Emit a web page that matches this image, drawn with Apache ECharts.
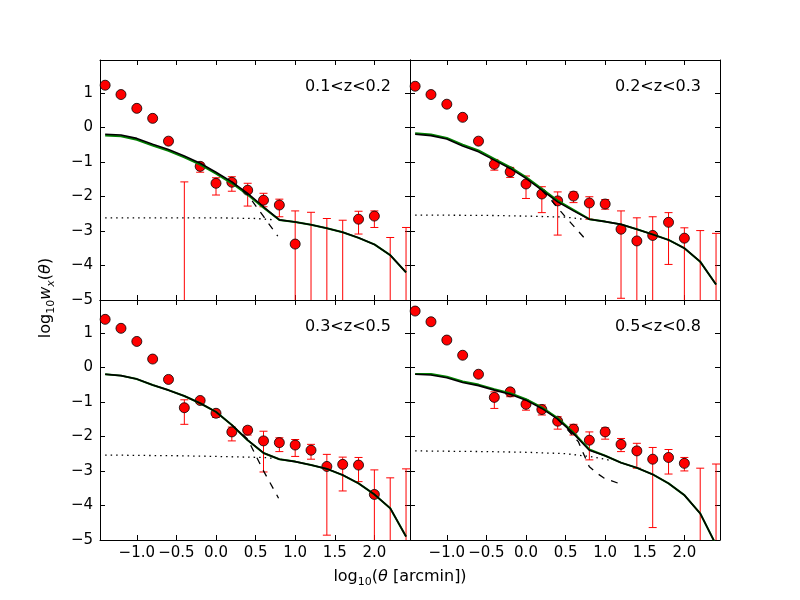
<!DOCTYPE html>
<html>
<head>
<meta charset="utf-8">
<script src="https://cdn.jsdelivr.net/npm/echarts@6/dist/echarts.min.js"></script>
<style>html,body{margin:0;padding:0;background:#fff}#c{width:800px;height:600px}</style>
</head>
<body>
<div id="c"></div>
<script>
// ---------- data ----------
const thetaX = [-1.4,-1.2,-1.0,-0.8,-0.6,-0.4,-0.2,0.0,0.2,0.4,0.6,0.8,1.0,1.2,1.4,1.6,1.8,2.0,2.2,2.4];
const xTicks = [-1.0,-0.5,0.0,0.5,1.0,1.5,2.0];
const yTicks = [-5,-4,-3,-2,-1,0,1];
const panelLabels = ['0.1<z<0.2','0.2<z<0.3','0.3<z<0.5','0.5<z<0.8'];

// panel 1: 0.1<z<0.2
const p1Y  = [1.22,0.95,0.55,0.26,-0.40,null,-1.13,-1.62,-1.59,-1.82,-2.11,-2.25,-3.38,null,null,null,-2.66,-2.57,null,null];
const p1Hi = [null,null,null,null,null,-1.58,-1.03,-1.46,-1.43,-1.62,-1.91,-2.08,-2.42,-2.46,-2.64,-2.69,-2.43,-2.42,-3.19,-2.90];
const p1Lo = [null,null,null,null,null,-9,-1.30,-1.96,-1.85,-2.28,-2.30,-2.59,-9,-9,-9,-9,-3.09,-2.90,-9,-9];
const p1Model = [-0.20,-0.22,-0.32,-0.49,-0.64,-0.83,-1.04,-1.30,-1.58,-1.91,-2.30,-2.68,-2.74,-2.82,-2.92,-3.04,-3.20,-3.39,-3.70,-4.20];
const p1Green = [-0.24,-0.26,-0.36,-0.53,-0.68,-0.87,-1.08,-1.34,-1.62,-1.95,-2.33,-2.68,-2.74,-2.82,-2.92,-3.04,-3.20,-3.39,-3.70,-4.20];
const p1DashX = [0.2,0.4,0.6,0.78];
const p1DashY = [-1.58,-1.95,-2.58,-3.15];
const p1DotX = [-1.4,-1.0,-0.5,0.0,0.5,0.75];
const p1DotY = [-2.62,-2.62,-2.62,-2.62,-2.64,-2.68];

// panel 2: 0.2<z<0.3
const p2Y  = [1.19,0.95,0.67,0.29,-0.40,-1.07,-1.29,-1.64,-1.93,-2.13,-1.99,-2.19,-2.22,-2.95,-3.29,-3.13,-2.75,-3.21,null,null];
const p2Hi = [null,null,null,null,null,-0.93,-1.16,-1.41,-1.72,-1.87,-1.87,-2.01,-2.09,-2.42,-2.62,-2.59,-2.47,-2.91,-2.99,-3.07];
const p2Lo = [null,null,null,null,null,-1.24,-1.45,-2.06,-2.47,-3.12,-2.18,-2.66,-2.37,-4.95,-9,-9,-3.97,-9,-9,-9];
const p2Model = [-0.20,-0.24,-0.34,-0.54,-0.71,-0.95,-1.19,-1.48,-1.82,-2.16,-2.42,-2.66,-2.73,-2.81,-2.95,-3.10,-3.26,-3.50,-3.89,-4.55];
const p2Green = [-0.17,-0.21,-0.31,-0.50,-0.67,-0.91,-1.15,-1.44,-1.78,-2.12,-2.39,-2.66,-2.73,-2.81,-2.95,-3.10,-3.26,-3.50,-3.89,-4.55];
const p2DashX = [0.2,0.3,0.49,0.77];
const p2DashY = [-1.82,-2.06,-2.57,-3.29];
const p2DotX = [-1.4,-0.5,0.0,0.5,0.72];
const p2DotY = [-2.54,-2.55,-2.57,-2.60,-2.66];

// panel 3: 0.3<z<0.5
const p3Y  = [1.39,1.13,0.75,0.24,-0.35,-1.17,-0.96,-1.33,-1.87,-1.82,-2.13,-2.18,-2.25,-2.40,-2.87,-2.81,-2.83,-3.68,null,null];
const p3Hi = [null,null,null,null,null,-0.94,-0.90,-1.24,-1.73,-1.72,-1.85,-2.04,-2.09,-2.23,-2.52,-2.60,-2.61,-2.97,-3.20,-2.94];
const p3Lo = [null,null,null,null,null,-1.65,-1.03,-1.45,-2.13,-1.96,-3.03,-2.44,-2.58,-2.66,-4.86,-3.58,-3.31,-9,-9,-9];
const p3Model = [-0.20,-0.24,-0.34,-0.51,-0.66,-0.83,-1.04,-1.29,-1.67,-2.11,-2.48,-2.66,-2.73,-2.83,-2.94,-3.12,-3.36,-3.68,-4.08,-4.90];
const p3Green = [-0.20,-0.24,-0.34,-0.51,-0.66,-0.83,-1.04,-1.29,-1.67,-2.11,-2.48,-2.66,-2.73,-2.83,-2.94,-3.12,-3.36,-3.68,-4.08,-4.90];
const p3DashX = [0.2,0.4,0.6,0.79];
const p3DashY = [-1.67,-2.08,-3.00,-3.79];
const p3DotX = [-1.4,-0.5,0.0,0.6,0.75];
const p3DotY = [-2.54,-2.56,-2.58,-2.61,-2.64];

// panel 4: 0.5<z<0.8
const p4Y  = [1.63,1.32,0.79,0.35,-0.20,-0.87,-0.71,-1.07,-1.22,-1.56,-1.79,-2.11,-1.87,-2.23,-2.42,-2.66,-2.61,-2.78,null,null];
const p4Hi = [null,null,null,null,null,-0.71,-0.63,-0.98,-1.09,-1.43,-1.65,-1.87,-1.75,-2.06,-2.20,-2.32,-2.38,-2.61,-2.92,-2.80];
const p4Lo = [null,null,null,null,null,-1.19,-0.85,-1.24,-1.38,-1.79,-1.96,-2.68,-2.08,-2.44,-2.92,-4.64,-3.09,-3.00,-9,-9];
const p4Model = [-0.20,-0.22,-0.30,-0.44,-0.53,-0.66,-0.78,-0.95,-1.19,-1.50,-1.92,-2.40,-2.56,-2.76,-2.91,-3.10,-3.36,-3.70,-4.23,-5.14];
const p4Green = [-0.19,-0.19,-0.27,-0.41,-0.50,-0.63,-0.75,-0.92,-1.16,-1.47,-1.89,-2.38,-2.56,-2.76,-2.91,-3.10,-3.36,-3.70,-4.23,-5.14];
const p4DashX = [0.4,0.55,0.66,0.77,0.80,0.90,0.98,1.17];
const p4DashY = [-1.50,-1.87,-2.15,-2.73,-2.88,-3.07,-3.20,-3.36];
const p4DotX = [-1.4,-0.5,0.0,0.5,0.83,1.08];
const p4DotY = [-2.42,-2.44,-2.46,-2.50,-2.59,-2.70];

// ---------- layout ----------
const X_MIN = -1.465, X_MAX = 2.45, Y_MIN = -5, Y_MAX = 1.95;
const FONT = 'DejaVu Sans';
const grids = [
  {left:100, top:60,  width:310, height:240},
  {left:410, top:60,  width:310, height:240},
  {left:100, top:300, width:310, height:240},
  {left:410, top:300, width:310, height:240}
];
const panels = [
  {y:p1Y,hi:p1Hi,lo:p1Lo,model:p1Model,green:p1Green,dx:p1DashX,dy:p1DashY,ox:p1DotX,oy:p1DotY},
  {y:p2Y,hi:p2Hi,lo:p2Lo,model:p2Model,green:p2Green,dx:p2DashX,dy:p2DashY,ox:p2DotX,oy:p2DotY},
  {y:p3Y,hi:p3Hi,lo:p3Lo,model:p3Model,green:p3Green,dx:p3DashX,dy:p3DashY,ox:p3DotX,oy:p3DotY},
  {y:p4Y,hi:p4Hi,lo:p4Lo,model:p4Model,green:p4Green,dx:p4DashX,dy:p4DashY,ox:p4DotX,oy:p4DotY}
];

const fmtX = v => (v < -1e-9 ? '\u2212' : '') + Math.abs(v).toFixed(1);
const fmtY = v => (v < -1e-9 ? '\u2212' : '') + Math.abs(v).toFixed(0);

const xAxis = [], yAxis = [], series = [], graphic = [];
const lineBlack = {color:'#000', width:1};

grids.forEach((g, i) => {
  ['bottom','top'].forEach((pos, k) => {
    xAxis.push({
      gridIndex:i, type:'value', min:X_MIN, max:X_MAX, position:pos,
      axisLine:{show:true, onZero:false, lineStyle:lineBlack},
      axisTick:{show:true, inside:true, length:5, customValues:xTicks, lineStyle:lineBlack},
      axisLabel:{show: k===0 && i>=2, customValues:xTicks, formatter:fmtX, color:'#000', fontSize:15, fontFamily:FONT, margin:6},
      splitLine:{show:false}
    });
  });
  ['left','right'].forEach((pos, k) => {
    yAxis.push({
      gridIndex:i, type:'value', min:Y_MIN, max:Y_MAX, position:pos,
      axisLine:{show:true, onZero:false, lineStyle:lineBlack},
      axisTick:{show:true, inside:true, length:5, customValues:yTicks, lineStyle:lineBlack},
      axisLabel:{show: k===0 && i%2===0, customValues:yTicks, formatter:fmtY, color:'#000', fontSize:15, fontFamily:FONT, margin:7},
      splitLine:{show:false}
    });
  });

  const p = panels[i];
  const xi = 2*i, yi = 2*i;
  const errData = [], ptData = [], modelData = [], greenData = [], dashData = [], dotData = [];
  thetaX.forEach((x, j) => {
    if (p.hi[j] !== null) errData.push([x, p.lo[j], p.hi[j]]);
    if (p.y[j] !== null) ptData.push([x, p.y[j]]);
    modelData.push([x, p.model[j]]);
    greenData.push([x, p.green[j]]);
  });
  p.dx.forEach((x, j) => dashData.push([x, p.dy[j]]));
  p.ox.forEach((x, j) => dotData.push([x, p.oy[j]]));

  series.push({
    type:'custom', xAxisIndex:xi, yAxisIndex:yi, data:errData, z:2, clip:true, silent:true,
    renderItem:(params, api) => {
      const x = api.value(0), lo = api.value(1), hi = api.value(2);
      const loC = Math.max(lo, Y_MIN), hiC = Math.min(hi, Y_MAX);
      const pH = api.coord([x, hiC]), pL = api.coord([x, loC]);
      const st = {stroke:'#ff0000', lineWidth:1};
      const ch = [{type:'line', shape:{x1:pH[0], y1:pH[1], x2:pL[0], y2:pL[1]}, style:st}];
      if (hi <= Y_MAX) ch.push({type:'line', shape:{x1:pH[0]-4, y1:pH[1], x2:pH[0]+4, y2:pH[1]}, style:st});
      if (lo >= Y_MIN) ch.push({type:'line', shape:{x1:pL[0]-4, y1:pL[1], x2:pL[0]+4, y2:pL[1]}, style:st});
      return {type:'group', children:ch};
    }
  });
  series.push({
    type:'scatter', xAxisIndex:xi, yAxisIndex:yi, data:ptData, z:3, symbol:'circle', symbolSize:10,
    itemStyle:{color:'#ff0000', borderColor:'#000', borderWidth:0.8, opacity:1}, silent:true
  });
  series.push({
    type:'line', xAxisIndex:xi, yAxisIndex:yi, data:greenData, z:4, showSymbol:false, symbol:'none',
    lineStyle:{color:'#008000', width:2}, clip:true, silent:true
  });
  series.push({
    type:'line', xAxisIndex:xi, yAxisIndex:yi, data:modelData, z:5, showSymbol:false, symbol:'none',
    lineStyle:{color:'#000', width:1.6}, clip:true, silent:true
  });
  series.push({
    type:'line', xAxisIndex:xi, yAxisIndex:yi, data:dashData, z:5, showSymbol:false, symbol:'none',
    lineStyle:{color:'#000', width:1.3, type:[7,7]}, clip:true, silent:true
  });
  series.push({
    type:'line', xAxisIndex:xi, yAxisIndex:yi, data:dotData, z:5, showSymbol:false, symbol:'none',
    lineStyle:{color:'#000', width:1.3, type:[1.5,4]}, clip:true, silent:true
  });

  graphic.push({
    type:'text', x:g.left + g.width - 19, y:g.top + 27, z:10,
    style:{text:panelLabels[i], fill:'#000', font:'16px "DejaVu Sans"', align:'right', verticalAlign:'middle'}
  });
});

const richStyles = {
  r:{fontSize:16, fontFamily:FONT, color:'#000', lineHeight:21, verticalAlign:'middle'},
  i:{fontSize:16, fontFamily:FONT, fontStyle:'italic', color:'#000', lineHeight:21, verticalAlign:'middle'},
  s:{fontSize:11, fontFamily:FONT, color:'#000', lineHeight:12, verticalAlign:'bottom'},
  si:{fontSize:11, fontFamily:FONT, fontStyle:'italic', color:'#000', lineHeight:12, verticalAlign:'bottom'}
};
graphic.push({
  type:'text', x:400, y:577, z:10,
  style:{text:'{r|log}{s|10}{r|(}{i|θ}{r| [arcmin])}', rich:richStyles, align:'center', verticalAlign:'middle'}
});
graphic.push({
  type:'text', x:46, y:298, z:10, rotation:Math.PI/2,
  style:{text:'{r|log}{s|10}{i|w}{si|x}{r|(}{i|θ}{r|)}', rich:richStyles, align:'center', verticalAlign:'middle'}
});

const chart = echarts.init(document.getElementById('c'), null, {renderer:'canvas'});
chart.setOption({
  animation:false,
  backgroundColor:'#fff',
  grid:grids,
  xAxis:xAxis,
  yAxis:yAxis,
  series:series,
  graphic:graphic
});
</script>
</body>
</html>
